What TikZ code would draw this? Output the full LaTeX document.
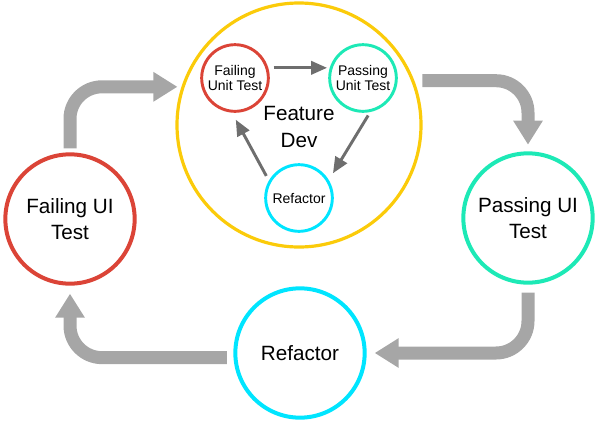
\documentclass[tikz,border=0pt]{standalone}
\usepackage{fontspec}
\setmainfont{Liberation Sans}
\usepackage{xcolor}
\usepackage{tikz}
\usetikzlibrary{shapes,arrows.meta,positioning,calc}
\definecolor{failred}{HTML}{DB4437}
\definecolor{passteal}{HTML}{1DE9B6}
\definecolor{refcyan}{HTML}{00E5FF}
\definecolor{devyellow}{HTML}{FBCB0A}
\definecolor{loopgray}{HTML}{A6A6A6}
\definecolor{innergray}{HTML}{6E6E6E}

\begin{document}
\begin{tikzpicture}[x=0.75pt, y=-0.75pt,
    bigstage/.style={circle, draw, line width=3pt, minimum size=97pt, inner sep=0pt,
                align=center, font=\fontsize{15.5}{19}\selectfont},
    smallstage/.style={circle, draw, line width=2.2pt, minimum size=50pt, inner sep=0pt,
                align=center, font=\fontsize{10.5}{11.8}\selectfont},
    loop/.style={draw=loopgray, line width=9.75pt, rounded corners=24pt,
                 -{Triangle[width=21pt, length=18pt]}},
    inner/.style={draw=innergray, line width=2.2pt, -{Triangle[width=10pt, length=12pt]}}
]
    \useasboundingbox (0,0) rectangle (600,425);

    % Feature Dev cycle
    \node[circle, draw=devyellow, line width=2.4pt, minimum size=183pt] (dev) at (299,125) {};
    \node[align=center, font=\fontsize{15.5}{20}\selectfont] (devlabel) at (299,127) {Feature\\Dev};
    \node[smallstage, draw=failred] (fut) at (235,78) {Failing\\Unit Test};
    \node[smallstage, draw=passteal] (put) at (363,78) {Passing\\Unit Test};
    \node[smallstage, draw=refcyan] (srf) at (299,198) {Refactor};

    % UI stages
    \node[bigstage, draw=failred] (fui) at (70,219) {Failing UI\\Test};
    \node[bigstage, draw=passteal] (pui) at (528,218) {Passing UI\\Test};
    \node[bigstage, draw=refcyan] (rf) at (300,353) {Refactor};

    % Inner arrows
    \draw[inner, shorten <=4pt, shorten >=2pt] (fut.17) -- (put.163);
    \draw[inner, shorten <=3pt, shorten >=6pt] (put.-78) -- (srf.31);
    \draw[inner, shorten <=4pt, shorten >=6pt] (srf.150) -- (fut.-95);

    % Outer loop
    \draw[loop, shorten <=3pt, shorten >=3pt] (fui.north) |- (dev.162);
    \draw[loop, shorten <=6pt, shorten >=5pt] (dev.21) -| (pui.north);
    \draw[loop, shorten <=6pt, shorten >=6pt] (pui.south) |- (rf.east);
    \draw[loop, shorten <=5pt, shorten >=6pt] (rf.184) -| (fui.south);
\end{tikzpicture}
\end{document}
